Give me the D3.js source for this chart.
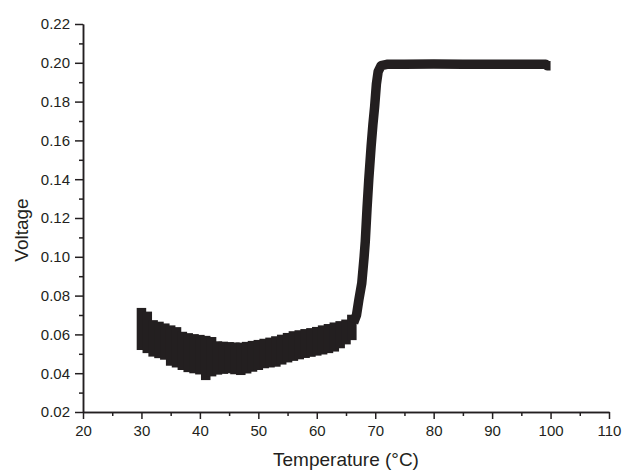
<!DOCTYPE html>
<html>
<head>
<meta charset="utf-8">
<script src="https://cdn.jsdelivr.net/npm/d3@7"></script>
<style>
  body { margin: 0; background: #fff; }
  svg { display: block; font-family: "Liberation Sans", Arial, sans-serif; }
</style>
</head>
<body>
<div id="chart-container"></div>
<script>
// noisy band region: marker centres at top / bottom of the band
const bandTemp = [30, 31, 32, 33, 34, 35, 36, 37, 38, 39, 40, 41, 42, 43, 44, 45, 46, 47, 48,
  49, 50, 51, 52, 53, 54, 55, 56, 57, 58, 59, 60, 61, 62, 63, 64, 65, 66];
const bandHigh = [0.0712, 0.0693, 0.0649, 0.0641, 0.0632, 0.0622, 0.0613, 0.0589, 0.0582, 0.0577,
  0.0573, 0.0568, 0.0562, 0.0540, 0.0538, 0.0536, 0.0534, 0.0533, 0.0537, 0.0542, 0.0547, 0.0553,
  0.0559, 0.0566, 0.0574, 0.0583, 0.0592, 0.0597, 0.0603, 0.0608, 0.0614, 0.0622, 0.0629, 0.0637,
  0.0644, 0.0652, 0.0677];
const bandLow = [0.0544, 0.0528, 0.0510, 0.0502, 0.0494, 0.0463, 0.0454, 0.0441, 0.0430, 0.0424,
  0.0418, 0.0389, 0.0408, 0.0417, 0.0421, 0.0424, 0.0419, 0.0415, 0.0423, 0.0432, 0.0441, 0.0450,
  0.0454, 0.0458, 0.0469, 0.0480, 0.0488, 0.0496, 0.0503, 0.0509, 0.0515, 0.0521, 0.0528, 0.0536,
  0.0553, 0.0573, 0.0595];

// transition and plateau
const riseTemp = [66.3, 66.8, 67.2, 67.7, 68.1, 68.3, 68.6, 68.9, 69.3, 69.6, 69.9, 70.2, 70.5,
  71.0, 72, 75, 80, 85, 90, 95, 99.2, 99.4, 100.0];
const riseVolt = [0.066, 0.070, 0.0778, 0.0864, 0.100, 0.108, 0.125, 0.140, 0.157, 0.168, 0.1774,
  0.189, 0.1955, 0.1985, 0.1992, 0.1993, 0.1994, 0.1993, 0.1993, 0.1992, 0.1992, 0.1985, 0.1985];

const xTicks = [20, 30, 40, 50, 60, 70, 80, 90, 100, 110];
const xMinor = [25, 35, 45, 55, 65, 75, 85, 95, 105];
const yTicks = [0.02, 0.04, 0.06, 0.08, 0.10, 0.12, 0.14, 0.16, 0.18, 0.20, 0.22];
const yMinor = [0.03, 0.05, 0.07, 0.09, 0.11, 0.13, 0.15, 0.17, 0.19, 0.21];

const width = 624;
const height = 470;
const margin = { top: 24, right: 15, bottom: 58, left: 83 };
const ink = "#231f20";
const marker = 9.5;

const svg = d3.select("#chart-container")
  .append("svg")
  .attr("width", width)
  .attr("height", height);

const x = d3.scaleLinear().domain([20, 110]).range([margin.left, width - margin.right]);
const y = d3.scaleLinear().domain([0.02, 0.22]).range([height - margin.bottom, margin.top]);

// noisy band drawn as stacked square markers
svg.append("g")
  .selectAll("rect")
  .data(bandTemp.map((t, i) => ({ t, hi: bandHigh[i], lo: bandLow[i] })))
  .join("rect")
  .attr("x", d => x(d.t) - marker / 2)
  .attr("y", d => y(d.hi) - marker / 2)
  .attr("width", marker)
  .attr("height", d => y(d.lo) - y(d.hi) + marker)
  .attr("fill", ink);

// rise and plateau
const line = d3.line().x(d => x(d[0])).y(d => y(d[1]));
svg.append("path")
  .datum(riseTemp.map((t, i) => [t, riseVolt[i]]))
  .attr("d", line)
  .attr("fill", "none")
  .attr("stroke", ink)
  .attr("stroke-width", marker)
  .attr("stroke-linejoin", "round");

// axes
const styleAxis = g => {
  g.select(".domain").attr("stroke", ink).attr("stroke-width", 1.5);
  g.selectAll(".tick line").attr("stroke", ink).attr("stroke-width", 1.5);
  g.selectAll(".tick text").attr("fill", ink).style("font-size", "15px");
};

svg.append("g")
  .attr("transform", `translate(0, ${y(0.02)})`)
  .call(d3.axisBottom(x).tickValues(xMinor).tickSize(4).tickSizeOuter(0).tickFormat(""))
  .call(styleAxis);
svg.append("g")
  .attr("transform", `translate(0, ${y(0.02)})`)
  .call(d3.axisBottom(x).tickValues(xTicks).tickSize(7).tickPadding(6).tickSizeOuter(0))
  .call(styleAxis);

svg.append("g")
  .attr("transform", `translate(${x(20)}, 0)`)
  .call(d3.axisLeft(y).tickValues(yMinor).tickSize(4).tickSizeOuter(0).tickFormat(""))
  .call(styleAxis);
svg.append("g")
  .attr("transform", `translate(${x(20)}, 0)`)
  .call(d3.axisLeft(y).tickValues(yTicks).tickSize(8).tickPadding(5).tickSizeOuter(0)
    .tickFormat(d => d.toFixed(2)))
  .call(styleAxis);

// axis titles
svg.append("text")
  .attr("x", (x(20) + x(110)) / 2)
  .attr("y", 466)
  .attr("text-anchor", "middle")
  .attr("fill", ink)
  .style("font-size", "19px")
  .text("Temperature (°C)");

svg.append("text")
  .attr("transform", "translate(28, 230) rotate(-90)")
  .attr("text-anchor", "middle")
  .attr("fill", ink)
  .style("font-size", "19px")
  .text("Voltage");
</script>
</body>
</html>
